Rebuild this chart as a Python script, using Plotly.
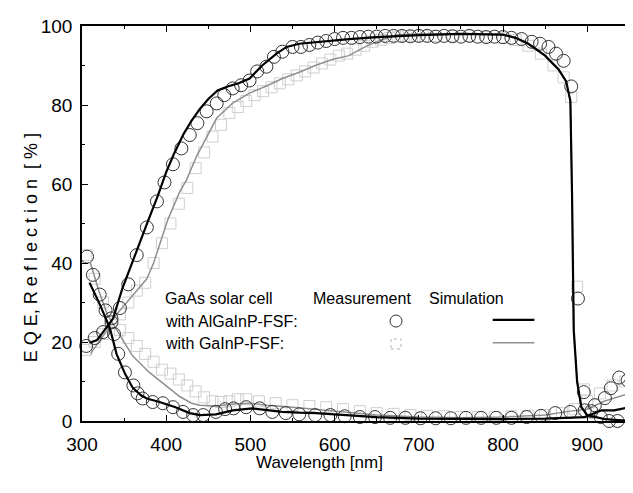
import plotly.graph_objects as go

# ---------------- data ----------------
# GaAs cell with AlGaInP-FSF : EQE measurement (circles)
alg_eqe_meas_x = [305, 315, 325, 335, 345, 355, 365, 377, 389, 398, 408, 418, 428, 437, 448, 460, 469, 479,
                  489, 499, 508, 519, 528, 538, 550, 560, 570, 580, 590, 600, 610, 620, 630, 640, 650, 660,
                  670, 680, 690, 700, 710, 720, 730, 740, 750, 760, 770, 780, 790, 800, 810, 822, 834, 844,
                  854, 863, 872, 881, 889, 896, 905, 916, 926, 936]
alg_eqe_meas_y = [19, 21, 22.5, 25, 28.6, 34.6, 42, 49, 55.6, 60.4, 65, 69, 72.4, 75.4, 78.4, 80.4, 82.5, 84.2,
                  85, 86.2, 88.5, 89.7, 92.2, 93.5, 94.7, 94.7, 95.2, 95.8, 96.2, 96.7, 97, 97, 97.2, 97.3, 97.3, 97.5,
                  97.5, 97.5, 97.4, 97.5, 97.5, 97.3, 97.5, 97.4, 97.3, 97.5, 97.3, 97.2, 97.3, 97.2, 97, 96.7, 96, 95.5,
                  94.7, 93, 91.2, 84.7, 31, 7.3, 2.5, 1, 0, 0]

# AlGaInP-FSF : EQE simulation (black line)
alg_eqe_sim_x = [309, 318, 325, 337, 348, 357, 366, 378, 390, 400, 410, 420, 430, 440, 450, 461, 473, 486, 499,
                 514, 531, 543, 558, 580, 600, 617, 650, 700, 750, 800, 815, 830, 850, 866, 875, 880, 882, 884,
                 888, 893, 900, 920, 950]
alg_eqe_sim_y = [19.8, 20.5, 22.5, 26, 33.6, 38.5, 43.6, 50.4, 57, 63, 68, 72.4, 76, 79, 81.5, 83.7, 84.7, 85.5,
                 86.7, 90, 93, 94.7, 95.5, 96, 96.5, 96.7, 97.2, 97.7, 98, 97.8, 97, 95.5, 92.5, 89, 86, 81, 57,
                 23, 10, 3.5, 1.5, 0.5, 0]

# AlGaInP-FSF : reflection measurement (circles)
alg_ref_meas_x = [306, 313, 321, 328, 335, 338, 343, 351, 361, 366, 372, 384, 396, 408, 420, 432, 444, 459, 470,
                  480, 495, 511, 526, 542, 558, 577, 595, 612, 630, 648, 666, 684, 702, 720, 738, 756, 774, 792,
                  810, 828, 845, 862, 880, 897, 909, 921, 928, 938, 948]
alg_ref_meas_y = [41.6, 37, 32, 28, 26, 22, 17, 12.3, 9, 7, 5.7, 4.8, 4.5, 3.5, 2.3, 1.5, 1.5, 2.3, 3, 3.2, 3.5,
                  3.2, 2.3, 2, 1.7, 1.5, 1.5, 1.2, 1, 1, 0.8, 0.8, 0.7, 0.7, 0.7, 0.8, 0.8, 0.8, 0.8, 1, 1.3, 2,
                  2.3, 2.7, 4, 5.8, 8.3, 11, 10.3]

# AlGaInP-FSF : reflection simulation (black line)
alg_ref_sim_x = [309, 321, 333, 341, 351, 360, 370, 377, 392, 411, 428, 440, 459, 479, 502, 518, 538, 558, 578,
                 600, 650, 700, 750, 800, 850, 880, 897, 917, 932, 950]
alg_ref_sim_y = [35, 29.6, 23.6, 17, 12, 8.5, 6.5, 5.7, 4.8, 3.5, 2, 1.5, 1.7, 2.7, 3.2, 2.8, 2.3, 2.1, 2, 1.7, 1,
                 0.6, 0.5, 0.5, 0.6, 0.8, 1, 2.7, 2.7, 3.5]

# GaInP-FSF : EQE measurement (squares)
gin_eqe_meas_x = [305, 315, 325, 335, 345, 355, 365, 375, 385, 395, 405, 415, 425, 435, 445, 455, 465, 475, 485,
                  495, 505, 515, 525, 535, 545, 555, 565, 575, 585, 595, 605, 615, 625, 635, 645, 655, 665, 675,
                  685, 695, 705, 720, 740, 760, 780, 800, 815, 830, 845, 860, 872, 881, 888, 896, 905]
gin_eqe_meas_y = [18, 20, 22, 25, 27, 30, 33, 35, 40, 45, 50, 55, 59, 64, 68, 72, 75, 78, 79.5, 81, 82.5, 83.5,
                  84.5, 85.5, 86.5, 87.5, 88.5, 89.5, 90.5, 91.5, 92.5, 93, 94, 95, 96, 96.5, 97, 97.3, 97.5, 97.5,
                  97.5, 97.5, 97.5, 97.5, 97.3, 97, 96.5, 95, 93, 90, 87, 82, 34, 8, 2]

# GaInP-FSF : EQE simulation (gray line)
gin_eqe_sim_x = [310, 320, 330, 337, 347, 357, 367, 377, 385, 392, 402, 416, 424, 436, 460, 479, 499, 519, 538,
                 558, 577, 597, 617, 636, 656, 675, 700, 750, 800, 815, 830, 850, 866, 875, 880, 882, 884, 888,
                 893, 900, 920, 950]
gin_eqe_sim_y = [17, 20, 23, 26, 28.5, 31, 33.5, 36, 40, 44.6, 51, 58, 61, 67, 76.7, 80.5, 83, 84.8, 86.7, 88.3,
                 90, 91.5, 92.5, 94.7, 96.5, 97.8, 98, 98, 97.8, 97, 95.5, 92.5, 89, 86, 81, 57, 23, 10, 3.5,
                 1.5, 0.5, 0]

# GaInP-FSF : reflection measurement (squares)
gin_ref_meas_x = [305, 315, 325, 335, 345, 355, 365, 375, 385, 395, 405, 415, 425, 435, 445, 455, 465, 475, 485,
                  495, 510, 530, 550, 570, 590, 610, 630, 650, 670, 690, 710, 730, 750, 770, 790, 810, 830, 850,
                  870, 885, 900, 915, 930, 945]
gin_ref_meas_y = [42, 36, 30, 26, 23, 21, 19, 17, 15, 13, 12, 10.5, 9, 7.5, 6, 5, 4.8, 5, 5.5, 5.5, 5, 4.5, 4,
                  3.8, 3.5, 3, 2.5, 2, 1.8, 1.5, 1.3, 1.2, 1, 1, 1, 1.2, 1.3, 1.5, 2, 3, 5, 7, 9, 10]

# GaInP-FSF : reflection simulation (gray line)
gin_ref_sim_x = [310, 320, 330, 340, 350, 360, 380, 400, 416, 430, 440, 460, 480, 500, 520, 550, 600, 650, 700,
                 750, 800, 850, 880, 900, 920, 950]
gin_ref_sim_y = [40, 33, 27, 23.5, 20, 16.5, 12.3, 8.8, 6.2, 4.5, 4, 3.8, 4.3, 4.5, 4, 3.5, 2.5, 1.5, 1, 0.8, 1,
                 1.5, 2.5, 3, 5, 7]

x_ticks = [300, 400, 500, 600, 700, 800, 900]
y_ticks = [0, 20, 40, 60, 80, 100]

# ---------------- styles ----------------
FONT = "Arial, Liberation Sans, Helvetica, sans-serif"
GRAY_LINE = "#8f8f8f"
GRAY_MARK = "#cfcfcf"

fig = go.Figure()

# gray (GaInP) first
for xs, ys in [(gin_eqe_meas_x, gin_eqe_meas_y), (gin_ref_meas_x, gin_ref_meas_y)]:
    fig.add_trace(go.Scatter(x=xs, y=ys, mode="markers", cliponaxis=False, showlegend=False,
                             marker=dict(symbol="square-open", size=11, color=GRAY_MARK,
                                         line=dict(width=1, color=GRAY_MARK))))
for xs, ys in [(gin_eqe_sim_x, gin_eqe_sim_y), (gin_ref_sim_x, gin_ref_sim_y)]:
    fig.add_trace(go.Scatter(x=xs, y=ys, mode="lines", showlegend=False,
                             line=dict(color=GRAY_LINE, width=1.5)))

# black (AlGaInP)
for xs, ys in [(alg_eqe_meas_x, alg_eqe_meas_y), (alg_ref_meas_x, alg_ref_meas_y)]:
    fig.add_trace(go.Scatter(x=xs, y=ys, mode="markers", cliponaxis=False, showlegend=False,
                             marker=dict(symbol="circle-open", size=13, color="#333",
                                         line=dict(width=1, color="#333"))))
for xs, ys in [(alg_eqe_sim_x, alg_eqe_sim_y), (alg_ref_sim_x, alg_ref_sim_y)]:
    fig.add_trace(go.Scatter(x=xs, y=ys, mode="lines", showlegend=False,
                             line=dict(color="black", width=2.2)))

axis_common = dict(showline=True, linecolor="black", linewidth=1.5, mirror="ticks",
                   ticks="inside", ticklen=6, tickwidth=1.3, tickcolor="black",
                   showgrid=False, zeroline=False,
                   tickfont=dict(family=FONT, size=19, color="black"))

fig.update_xaxes(range=[300, 952], tickvals=x_ticks, ticktext=[str(v) for v in x_ticks],
                 minor=dict(dtick=50, ticks="inside", ticklen=3, tickcolor="black", showgrid=False),
                 ticklabelstandoff=5, **axis_common)
fig.update_yaxes(range=[0, 100], tickvals=y_ticks, ticktext=[str(v) for v in y_ticks],
                 minor=dict(dtick=10, ticks="inside", ticklen=3, tickcolor="black", showgrid=False),
                 ticklabelstandoff=4, **axis_common)

LEG = dict(family=FONT, size=16, color="black")
annots = [
    dict(text="Wavelength [nm]", x=0.432, y=-0.105, xref="paper", yref="paper",
         xanchor="center", yanchor="middle", showarrow=False,
         font=dict(family=FONT, size=17, color="black")),
    dict(text="E Q E, R e f l e c t i o n  [ % ]", x=-0.093, y=0.44, xref="paper", yref="paper",
         xanchor="center", yanchor="middle", showarrow=False, textangle=-90,
         font=dict(family=FONT, size=18, color="black")),
    dict(text="GaAs solar cell", x=0.147, y=0.311, xref="paper", yref="paper",
         xanchor="left", yanchor="middle", showarrow=False, font=LEG),
    dict(text="with AlGaInP-FSF:", x=0.147, y=0.253, xref="paper", yref="paper",
         xanchor="left", yanchor="middle", showarrow=False, font=LEG),
    dict(text="with GaInP-FSF:", x=0.147, y=0.195, xref="paper", yref="paper",
         xanchor="left", yanchor="middle", showarrow=False, font=LEG),
    dict(text="Measurement", x=0.417, y=0.311, xref="paper", yref="paper",
         xanchor="left", yanchor="middle", showarrow=False, font=LEG),
    dict(text="Simulation", x=0.628, y=0.311, xref="paper", yref="paper",
         xanchor="left", yanchor="middle", showarrow=False, font=LEG),
]

shapes = [
    dict(type="circle", xref="paper", yref="paper", xsizemode="pixel", ysizemode="pixel",
         xanchor=0.572, yanchor=0.253, x0=-6, x1=6, y0=-6, y1=6, line=dict(color="#333", width=1)),
    dict(type="rect", xref="paper", yref="paper", xsizemode="pixel", ysizemode="pixel",
         xanchor=0.572, yanchor=0.195, x0=-5, x1=5, y0=-5, y1=5,
         line=dict(color="#b5b5b5", width=1, dash="dot")),
    dict(type="line", xref="paper", yref="paper", x0=0.748, x1=0.824, y0=0.256, y1=0.256,
         line=dict(color="black", width=2.2)),
    dict(type="line", xref="paper", yref="paper", x0=0.748, x1=0.824, y0=0.198, y1=0.198,
         line=dict(color=GRAY_LINE, width=1.5)),
]

# the page body adds an 8 px offset; margins compensate so the plot area lands
# at x 82..633, y 22..421 of the window
fig.update_layout(width=633, height=493, margin=dict(l=74, r=8, t=14, b=80),
                  paper_bgcolor="white", plot_bgcolor="white",
                  annotations=annots, shapes=shapes, showlegend=False)

fig.write_html("out.html")
